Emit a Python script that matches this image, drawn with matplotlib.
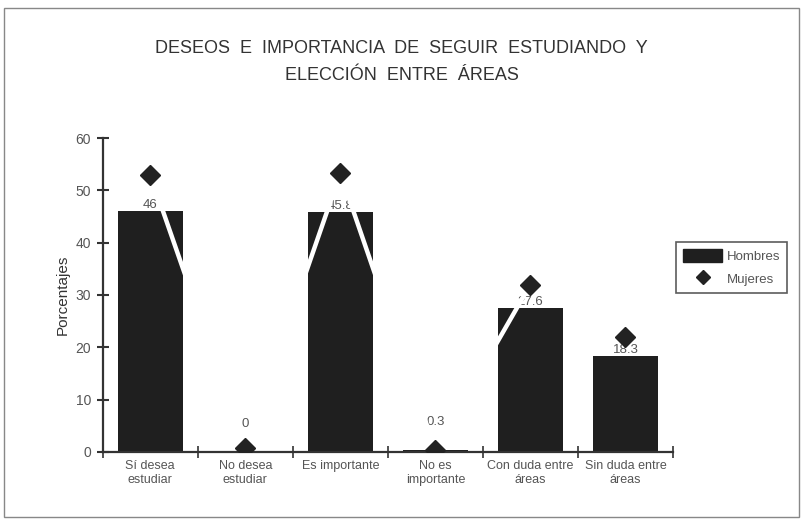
import matplotlib.pyplot as plt
import numpy as np
from matplotlib.lines import Line2D
from matplotlib.patches import Rectangle

plt.rcParams['font.family'] = ['Liberation Sans', 'DejaVu Sans']

categorias = ['Sí desea\nestudiar', 'No desea\nestudiar', 'Es importante',
              'No es\nimportante', 'Con duda entre\náreas', 'Sin duda entre\náreas']
hombres = [46, 0, 45.8, 0.3, 27.6, 18.3]
etiquetas_hombres = ['46', '0', '45.8', '0.3', '27.6', '18.3']
mujeres = [53, 0.8, 53.3, 0.4, 32, 22]

fig = plt.figure(figsize=(8.03, 5.23), dpi=100)
ax = fig.add_axes([0.128, 0.136, 0.71, 0.6])

x = np.arange(len(categorias))

# barras de hombres
ax.bar(x, hombres, width=0.68, color='#1f1f1f', zorder=2, label='Hombres')

# etiquetas de valor encima de cada barra
for xi, v, t in zip(x, hombres, etiquetas_hombres):
    desplaz = 16 if v < 5 else 0
    ax.annotate(t, (xi, v), xytext=(0, desplaz), textcoords='offset points',
                ha='center', va='bottom', fontsize=9.5, color='#555555', zorder=3)

# linea blanca que une los puntos de mujeres (solo se ve sobre las barras)
ax.plot(x, mujeres, color='white', linewidth=3.2, zorder=4)
ax.plot(x, mujeres, linestyle='none', marker='D', markersize=10,
        color='#222222', zorder=5, label='Mujeres')

ax.set_xlim(-0.5, len(categorias) - 0.5)
ax.set_ylim(0, 60)
ax.set_yticks(np.arange(0, 61, 10))
ax.set_xticks(x)
ax.set_xticklabels(categorias, fontsize=9, color='#555555')
ax.set_xticks(np.arange(-0.5, len(categorias)), minor=True)
ax.tick_params(axis='x', which='major', length=0, pad=6)
ax.tick_params(axis='x', which='minor', direction='inout', length=8, width=1.2, color='#333333')
ax.tick_params(axis='y', direction='inout', length=9, width=1.5, color='#333333',
               labelsize=10, labelcolor='#555555', pad=4)

for s in ['top', 'right']:
    ax.spines[s].set_visible(False)
for s in ['left', 'bottom']:
    ax.spines[s].set_color('#333333')
    ax.spines[s].set_linewidth(1.6)

ax.set_ylabel('Porcentajes', fontsize=11, color='#333333', labelpad=4)

fig.text(0.5, 0.907, 'DESEOS  E  IMPORTANCIA  DE  SEGUIR  ESTUDIANDO  Y',
         ha='center', va='center', fontsize=13, color='#333333')
fig.text(0.5, 0.856, 'ELECCIÓN  ENTRE  ÁREAS',
         ha='center', va='center', fontsize=13, color='#333333')

handles = [Rectangle((0, 0), 1, 1, color='#1f1f1f'),
           Line2D([], [], linestyle='none', marker='D', markersize=7, color='#222222')]
leg = ax.legend(handles, ['Hombres', 'Mujeres'], loc='upper left',
                bbox_to_anchor=(669 / 803, 1 - 235 / 523), bbox_transform=fig.transFigure,
                fontsize=9.5, frameon=True, fancybox=False, borderpad=0.55,
                handlelength=3.0, handleheight=1.1, handletextpad=0.3,
                labelspacing=0.7, labelcolor='#555555')
leg.get_frame().set_edgecolor('#333333')
leg.get_frame().set_linewidth(1.2)

# marco exterior del grafico
fig.patches.append(Rectangle((0.005, 0.012), 0.99, 0.972, transform=fig.transFigure,
                             fill=False, edgecolor='#888888', linewidth=1))

fig.savefig('out.png', dpi=100)
